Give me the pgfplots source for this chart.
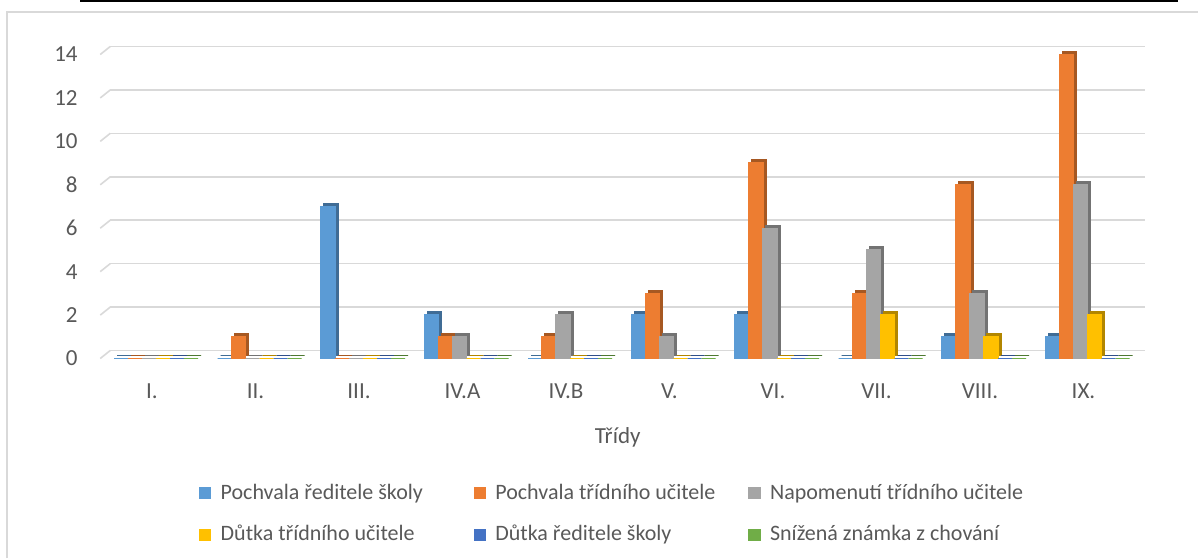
\documentclass[border=0pt]{standalone}
\usepackage{pgfplots}
\pgfplotsset{compat=1.18}
\usepackage{fontspec}
\setmainfont{Carlito}
\definecolor{txt}{HTML}{595959}
\definecolor{grd}{HTML}{D9D9D9}
\definecolor{c1}{HTML}{5B9BD5}
\definecolor{c2}{HTML}{ED7D31}
\definecolor{c3}{HTML}{A5A5A5}
\definecolor{c4}{HTML}{FFC000}
\definecolor{c5}{HTML}{4472C4}
\definecolor{c6}{HTML}{70AD47}
\pgfplotstableread{
x s1 s2 s3 s4 s5 s6
0 0 0 0 0 0 0
1 0 1 0 0 0 0
2 7 0 0 0 0 0
3 2 1 1 0 0 0
4 0 1 2 0 0 0
5 2 3 1 0 0 0
6 2 9 6 0 0 0
7 0 3 5 2 0 0
8 1 8 3 1 0 0
9 1 14 8 2 0 0
}\data
\newcommand{\lentry}[1]{\makebox[127.75pt][l]{\hspace*{3pt}#1}}
\begin{document}
\begin{tikzpicture}
\path[use as bounding box] (0,0) rectangle (599pt,279pt);
\draw[grd, line width=1pt] (3.5pt,0) -- (3.5pt,273pt) -- (599pt,273pt);
\draw[black, line width=1pt] (40pt,278.5pt) -- (589pt,278.5pt);
\begin{axis}[
  at={(50.125pt,99.75pt)}, anchor=south west,
  scale only axis, width=517.5pt, height=152pt,
  xmin=-0.5, xmax=9.5, ymin=0, ymax=14,
  xtick={0,...,9}, xticklabels={I.,II.,III.,IV.A,IV.B,V.,VI.,VII.,VIII.,IX.},
  ytick={0,2,...,14},
  ymajorgrids, grid style={grd, line width=0.8pt, xshift=5pt, yshift=4pt},
  axis line style={draw=none}, major tick length=0pt,
  tick label style={font=\fontsize{11.5pt}{13pt}\selectfont, text=txt},
  /pgf/number format/assume math mode=true,
  yticklabel style={xshift=-7.8pt},
  xticklabel style={yshift=-9.25pt},
  xlabel={Třídy},
  xlabel style={at={(axis description cs:0.5,0)}, anchor=center, yshift=-39.25pt, font=\fontsize{11.5pt}{13pt}\selectfont, text=txt},
  ybar=0pt, bar width=7pt, clip=false,
  legend columns=3,
  legend style={at={(axis description cs:0.095,-0.5115)}, anchor=west, draw=none, fill=none, inner sep=0pt,
    nodes={inner sep=1.75pt}, column sep=0pt, row sep=8pt,
    font=\fontsize{11pt}{13pt}\selectfont, text=txt},
  legend image code/.code={\fill[#1] (0pt,-2.75pt) rectangle (5.5pt,2.75pt);},
]
\pgfplotsinvokeforeach{0,2,4,6,8,10,12,14}{
  \draw[grd, line width=0.8pt] (axis cs:-0.5,#1) -- ([xshift=5pt,yshift=4pt]axis cs:-0.5,#1);
}
% depth (shadow) faces
\addplot[forget plot, draw=c1!70!black, fill=c1!70!black, line width=0.6pt, bar shift=-15.5pt, xshift=1.5pt, yshift=1.5pt] table[x=x,y=s1]{\data};
\addplot[forget plot, draw=c2!70!black, fill=c2!70!black, line width=0.6pt, bar shift=-8.5pt, xshift=1.5pt, yshift=1.5pt] table[x=x,y=s2]{\data};
\addplot[forget plot, draw=c3!70!black, fill=c3!70!black, line width=0.6pt, bar shift=-1.5pt, xshift=1.5pt, yshift=1.5pt] table[x=x,y=s3]{\data};
\addplot[forget plot, draw=c4!70!black, fill=c4!70!black, line width=0.6pt, bar shift=5.5pt, xshift=1.5pt, yshift=1.5pt] table[x=x,y=s4]{\data};
\addplot[forget plot, draw=c5!70!black, fill=c5!70!black, line width=0.6pt, bar shift=12.5pt, xshift=1.5pt, yshift=1.5pt] table[x=x,y=s5]{\data};
\addplot[forget plot, draw=c6!70!black, fill=c6!70!black, line width=0.6pt, bar shift=19.5pt, xshift=1.5pt, yshift=1.5pt] table[x=x,y=s6]{\data};
% front faces
\addplot[draw=c1, fill=c1, line width=0.6pt, bar shift=-15.5pt] table[x=x,y=s1]{\data};
\addlegendentry{\lentry{Pochvala ředitele školy}}
\addplot[draw=c2, fill=c2, line width=0.6pt, bar shift=-8.5pt] table[x=x,y=s2]{\data};
\addlegendentry{\lentry{Pochvala třídního učitele}}
\addplot[draw=c3, fill=c3, line width=0.6pt, bar shift=-1.5pt] table[x=x,y=s3]{\data};
\addlegendentry{\lentry{Napomenutí třídního učitele}}
\addplot[draw=c4, fill=c4, line width=0.6pt, bar shift=5.5pt] table[x=x,y=s4]{\data};
\addlegendentry{\lentry{Důtka třídního učitele}}
\addplot[draw=c5, fill=c5, line width=0.6pt, bar shift=12.5pt] table[x=x,y=s5]{\data};
\addlegendentry{\lentry{Důtka ředitele školy}}
\addplot[draw=c6, fill=c6, line width=0.6pt, bar shift=19.5pt] table[x=x,y=s6]{\data};
\addlegendentry{\lentry{Snížená známka z chování}}
\end{axis}
\end{tikzpicture}
\end{document}
